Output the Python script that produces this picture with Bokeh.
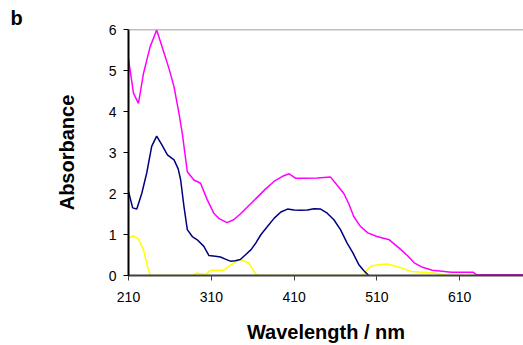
from bokeh.plotting import figure
from bokeh.models import FixedTicker, Span
from bokeh.embed import file_html
from bokeh.resources import INLINE

# Magenta spectrum
wl_m = [210, 216, 222, 228, 236, 244, 252, 259, 265, 271, 275, 281, 289, 297, 305, 313, 320, 329, 337,
        345, 355, 365, 375, 386, 396, 404, 412, 422, 438, 454, 462, 470, 476, 482, 490, 499, 510, 525,
        539, 547, 555, 565, 577, 600, 626, 630, 687]
abs_m = [5.28, 4.45, 4.2, 4.92, 5.57, 5.99, 5.49, 5.04, 4.6, 3.95, 3.46, 2.53, 2.33, 2.25, 1.85, 1.52,
         1.38, 1.29, 1.36, 1.5, 1.7, 1.9, 2.1, 2.3, 2.42, 2.48, 2.37, 2.37, 2.38, 2.4, 2.2, 2.0, 1.75,
         1.44, 1.2, 1.04, 0.95, 0.87, 0.63, 0.48, 0.31, 0.2, 0.13, 0.08, 0.08, 0.02, 0.02]

# Navy spectrum
wl_n = [210, 215, 220, 226, 232, 238, 244, 250, 257, 265, 270, 273, 277, 281, 287, 293, 301, 307, 315,
        321, 327, 333, 339, 345, 351, 358, 364, 370, 378, 386, 394, 402, 410, 418, 426, 434, 442, 450,
        458, 466, 474, 481, 488, 494, 500]
abs_n = [2.05, 1.65, 1.62, 2.0, 2.5, 3.15, 3.4, 3.2, 2.94, 2.82, 2.6, 2.33, 1.68, 1.12, 0.95, 0.87,
         0.71, 0.49, 0.47, 0.45, 0.4, 0.35, 0.36, 0.39, 0.5, 0.63, 0.8, 1.0, 1.2, 1.4, 1.55, 1.62, 1.6,
         1.59, 1.6, 1.63, 1.62, 1.52, 1.36, 1.12, 0.79, 0.55, 0.27, 0.12, 0.0]

# Yellow spectrum
wl_y = [210, 216, 222, 228, 232, 236, 287, 293, 303, 309, 325, 337, 345, 355, 360, 365, 493, 497, 503,
        513, 523, 539, 551, 579, 595, 687]
abs_y = [0.91, 0.97, 0.89, 0.63, 0.3, 0.0, 0.0, 0.06, 0.02, 0.13, 0.13, 0.31, 0.39, 0.31, 0.15, 0.0,
         0.0, 0.12, 0.23, 0.27, 0.28, 0.19, 0.1, 0.06, 0.0, 0.0]

x_ticks = [210, 310, 410, 510, 610]
y_ticks = [0, 1, 2, 3, 4, 5, 6]

p = figure(width=523, height=345, x_range=(210, 687), y_range=(0, 6),
           output_backend="svg", toolbar_location=None,
           min_border_left=128, min_border_right=0, min_border_top=29, min_border_bottom=69)
p.outline_line_color = None
p.xgrid.visible = False
p.ygrid.visible = False

p.title.text = "b"
p.title.align = "left"
p.title.offset = -118
p.title.standoff = 1
p.title.text_font = "Liberation Sans"
p.title.text_font_style = "bold"
p.title.text_font_size = "20px"
p.title.text_color = "black"

p.line(wl_y, abs_y, line_color="#FFFF00", line_width=1.5)
p.line(wl_n, abs_n, line_color="#000080", line_width=1.5)
p.line(wl_m, abs_m, line_color="#FF00FF", line_width=1.5)

p.add_layout(Span(location=6, dimension="width", line_color="#808080", line_width=1.5))

for ax, ticks in ((p.xaxis, x_ticks), (p.yaxis, y_ticks)):
    ax.ticker = FixedTicker(ticks=ticks)
    ax.minor_tick_line_color = None
    ax.major_tick_in = 0
    ax.major_tick_out = 5
    ax.major_label_text_font = "Liberation Sans"
    ax.major_label_text_font_size = "14px"
    ax.major_label_text_color = "black"
    ax.axis_label_text_font = "Liberation Sans"
    ax.axis_label_text_font_style = "bold"
    ax.axis_label_text_font_size = "20px"
    ax.axis_label_text_color = "black"

p.xaxis.axis_line_color = "#404040"
p.xaxis.axis_line_width = 2
p.xaxis.major_tick_line_color = "#404040"
p.xaxis.major_label_standoff = 11
p.xaxis.axis_label = "Wavelength / nm"
p.xaxis.axis_label_standoff = 16

p.yaxis.axis_line_color = "black"
p.yaxis.axis_line_width = 2
p.yaxis.major_tick_line_color = "black"
p.yaxis.major_label_standoff = 7
p.yaxis.axis_label = "Absorbance"
p.yaxis.axis_label_standoff = 28

open("out.html", "w").write(file_html(p, INLINE))
